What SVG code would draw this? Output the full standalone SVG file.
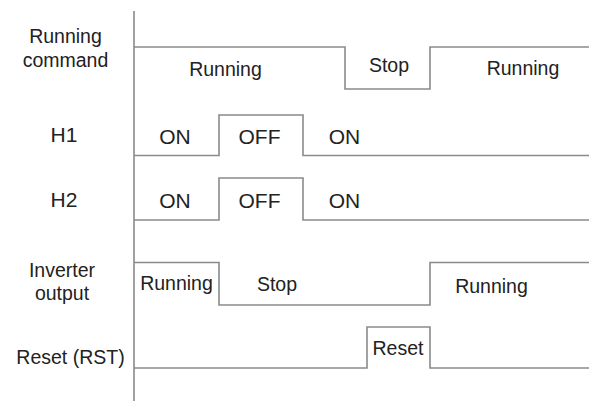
<svg xmlns="http://www.w3.org/2000/svg" width="589" height="403" viewBox="0 0 589 403">
<style>
  .w{fill:none;stroke:#8a8a8a;stroke-width:1.6}
  text{font-family:"Liberation Sans",Arial,sans-serif;font-size:19.5px;fill:#222;text-anchor:middle}
  .b{font-size:21px}
</style>
<rect width="589" height="403" fill="#fff"/>
<g id="axis"><path class="w" d="M134,11V401"/></g>
<g id="labels">
  <text x="65.5" y="43">Running</text>
  <text x="65.5" y="67">command</text>
  <text class="b" x="64" y="142">H1</text>
  <text class="b" x="64" y="207">H2</text>
  <text x="62" y="277">Inverter</text>
  <text x="62" y="300">output</text>
  <text x="70.5" y="364">Reset (RST)</text>
</g>
<g id="connectors">
  <path id="running-command" class="w" d="M134,47H345V89H430V47H589"/>
  <path id="h1" class="w" d="M134,155.5H219V115H303V155.5H589"/>
  <path id="h2" class="w" d="M134,220H219V178H303V220H589"/>
  <path id="inverter-output" class="w" d="M134,262.5H219V305H430V262.5H589"/>
  <path id="reset" class="w" d="M134,368H367V327H430V368H589"/>
</g>
<g id="running-command-states">
  <text x="225.5" y="76">Running</text>
  <text x="389" y="72">Stop</text>
  <text x="523" y="75">Running</text>
</g>
<g id="h1-states">
  <text class="b" x="175" y="144">ON</text>
  <text class="b" x="259.5" y="144">OFF</text>
  <text class="b" x="344.5" y="144">ON</text>
</g>
<g id="h2-states">
  <text class="b" x="175" y="208">ON</text>
  <text class="b" x="259.5" y="208">OFF</text>
  <text class="b" x="344.5" y="208">ON</text>
</g>
<g id="inverter-states">
  <text x="176.5" y="290">Running</text>
  <text x="277" y="291">Stop</text>
  <text x="491.5" y="293">Running</text>
</g>
<g id="reset-states">
  <text x="398" y="355">Reset</text>
</g>
</svg>
